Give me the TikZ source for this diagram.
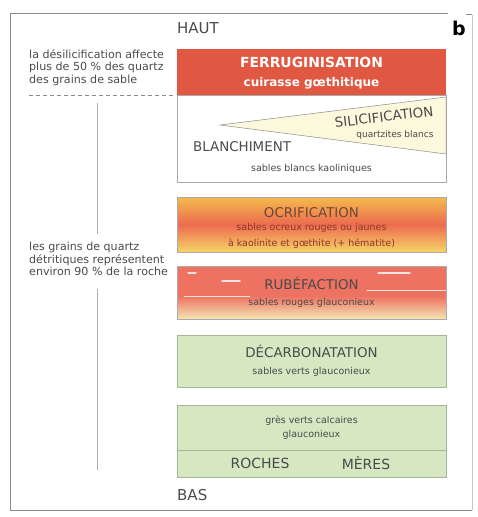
\documentclass[tikz,border=0pt]{standalone}
\usepackage{fontspec}
\setmainfont{DejaVu Sans}
\usetikzlibrary{positioning}

\definecolor{framegray}{HTML}{8C8C8C}
\definecolor{txtgray}{HTML}{4A4A4A}
\definecolor{boxgray}{HTML}{A9A9A9}
\definecolor{ferro}{HTML}{E05841}
\definecolor{ocretop}{HTML}{F4BC4C}
\definecolor{ocremid}{HTML}{EC6B50}
\definecolor{ocrebot}{HTML}{F7D466}
\definecolor{ocretxt}{HTML}{6E4535}
\definecolor{rube}{HTML}{EE7261}
\definecolor{rubebot}{HTML}{F3E6B4}
\definecolor{silex}{HTML}{FBF8DC}
\definecolor{vert}{HTML}{D5E8C2}
\definecolor{vertline}{HTML}{A6B596}

\begin{document}
\begin{tikzpicture}[x=1pt,y=-1pt,
  lbl/.style={text=txtgray,font=\fontsize{11.1}{12.6}\selectfont,align=left,anchor=north west,inner sep=0pt},
  big/.style={text=txtgray,font=\fontsize{13.4}{15}\selectfont,inner sep=0pt},
  small/.style={text=txtgray,font=\fontsize{9.5}{15.5}\selectfont,align=center,inner sep=0pt},
  layer/.style={draw=boxgray,line width=0.6pt}]
\useasboundingbox (0,0) rectangle (477,517);

% cadre
\draw[framegray,line width=0.8pt] (448,13)--(10,13)--(10,510)--(472,510);
\draw[framegray!50,line width=0.6pt] (472,510)--(472,15);
\draw[framegray,line width=0.8pt] (466,14)--(472,14);

\node[big,font=\fontsize{15}{15}\selectfont,anchor=west] (haut) at (177,28) {HAUT};
\node[big,font=\fontsize{15}{15}\selectfont,anchor=west] (bas) at (177,495) {BAS};
\node[font=\bfseries\fontsize{19}{19}\selectfont,inner sep=0pt,anchor=west] (b) at (452,28) {b};

% colonne de gauche
\node[lbl] (desil) at (29,49) {la désilicification affecte\\plus de 50 \% des quartz\\des grains de sable};
\draw[framegray,dashed,dash pattern=on 4pt off 3pt,line width=0.5pt] (29,95)--(174,95);
\node[lbl] (grains) at (29,242) {les grains de quartz\\détritiques représentent\\environ 90 \% de la roche};
\draw[framegray!70,line width=0.7pt] (97,103)--(97,234);
\draw[framegray!70,line width=0.7pt] (97,289)--(97,470);

% ferruginisation
\fill[ferro] (177,49) rectangle (446,95);
\draw[ferro!80!black,line width=0.6pt] (177,95)--(446,95);
\node[text=white,font=\bfseries\fontsize{13.9}{15}\selectfont,inner sep=0pt] (ferr) at (311.5,62) {FERRUGINISATION};
\node[text=white,font=\bfseries\fontsize{12}{14}\selectfont,inner sep=0pt] (cuir) at (311.5,83) {cuirasse gœthitique};

% blanchiment / silicification
\draw[layer] (177,95) rectangle (446,182);
\coordinate (apex) at (220,125);
\coordinate (st) at (446,97);
\coordinate (sb) at (446,154);
\filldraw[fill=silex,draw=framegray,line width=0.5pt] (apex)--(st)--(sb)--cycle;
\node[big,rotate=7] (silic) at (384,117) {SILICIFICATION};
\node[small,font=\fontsize{9}{12}\selectfont] (quartz) at (395,135) {quartzites blancs};
\node[big,anchor=west] (blanch) at (193,147) {BLANCHIMENT};
\node[small] (kaol) at (311.5,169) {sables blancs kaoliniques};

% ocrification
\shade[top color=ocretop,bottom color=ocrebot,middle color=ocremid] (177,197) rectangle (446,252);
\draw[layer] (177,197) rectangle (446,252);
\node[big,text=ocretxt] (ocri) at (311.5,213) {OCRIFICATION};
\node[small,text=ocretxt!80!red] (ocreux) at (311.5,236) {sables ocreux rouges ou jaunes\\à kaolinite et gœthite (+ hématite)};

% rubefaction
\fill[rube] (177,266) rectangle (446,296);
\shade[top color=rube,bottom color=rubebot] (177,296) rectangle (446,319);
\foreach \xa/\xb/\yy/\ww in {188/196/273/1.3, 222/240/281/1.4, 378/410/273/1.3, 367/447/290/0.7, 184/250/296/0.6}
  \draw[white,opacity=0.8,line width=\ww pt,line cap=round] (\xa,\yy)--(\xb,\yy);
\draw[layer] (177,266) rectangle (446,319);
\node[big] (rubef) at (311.5,283) {RUBÉFACTION};
\node[small] (rouges) at (311.5,303) {sables rouges glauconieux};

% decarbonatation
\filldraw[fill=vert,draw=vertline,line width=0.6pt] (177,335) rectangle (446,387);
\node[big] (decarb) at (311.5,351) {DÉCARBONATATION};
\node[small] (verts) at (311.5,372) {sables verts glauconieux};

% roches meres
\filldraw[fill=vert,draw=vertline,line width=0.6pt] (177,405) rectangle (446,477);
\draw[vertline,line width=0.6pt] (177,450)--(446,450);
\node[small,font=\fontsize{9.5}{14}\selectfont] (gres) at (311.5,428) {grès verts calcaires\\glauconieux};
\node[big,font=\fontsize{14}{15}\selectfont] (roches) at (260,463) {ROCHES};
\node[big,font=\fontsize{14}{15}\selectfont] (meres) at (366,463) {MÈRES};

\end{tikzpicture}
\end{document}
